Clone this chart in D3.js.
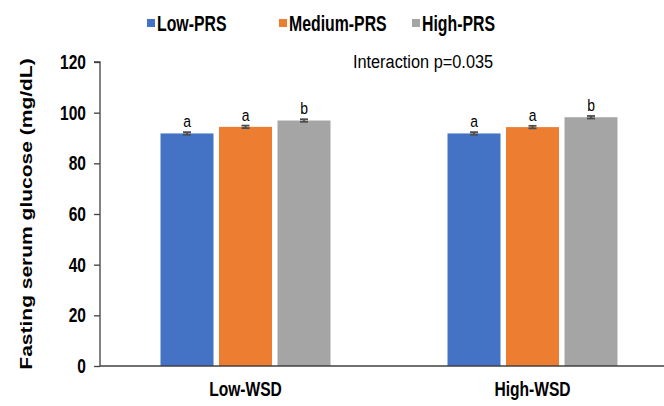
<!DOCTYPE html>
<html>
<head>
<meta charset="utf-8">
<script src="https://cdn.jsdelivr.net/npm/d3@7"></script>
<style>
  body { margin: 0; background: #fff; }
  text { font-family: "Liberation Sans", Arial, sans-serif; }
</style>
</head>
<body>
<script>
// data
const groups = ["Low-WSD", "High-WSD"];
const series = ["Low-PRS", "Medium-PRS", "High-PRS"];
const lowWsd = [91.8, 94.4, 96.9];
const highWsd = [91.8, 94.3, 98.2];
const errLow = [0.5, 0.5, 0.5];
const errHigh = [0.5, 0.5, 0.5];
const lettersLow = ["a", "a", "b"];
const lettersHigh = ["a", "a", "b"];
const yTicks = [0, 20, 40, 60, 80, 100, 120];
const colors = ["#4472C4", "#ED7D31", "#A5A5A5"];

const canvWidth = 664, canvHeight = 406;
const svg = d3.select("body").append("svg")
  .attr("width", canvWidth)
  .attr("height", canvHeight);

const rows = [];
groups.forEach(function(g, gi) {
  const vals = gi === 0 ? lowWsd : highWsd;
  const errs = gi === 0 ? errLow : errHigh;
  const lets = gi === 0 ? lettersLow : lettersHigh;
  series.forEach(function(s, si) {
    rows.push({group: g, series: s, value: vals[si], err: errs[si], letter: lets[si], color: colors[si]});
  });
});

// scales
const y = d3.scaleLinear().domain([0, 120]).range([366, 62]);
const x0 = d3.scaleBand().domain(groups).range([102, 676]);
const x1 = d3.scaleBand().domain(series).range([-85, 85]).paddingInner(0.094);

// narrow text helper (chart text is condensed)
function label(parent, str, x, yy, size, weight, anchor, sx) {
  return parent.append("text")
    .attr("transform", "translate(" + x + "," + yy + ") scale(" + sx + ",1)")
    .attr("font-size", size + "px")
    .attr("font-weight", weight)
    .attr("text-anchor", anchor)
    .attr("fill", "#000")
    .text(str);
}

// bars
const bars = svg.append("g");
bars.selectAll("rect").data(rows).enter().append("rect")
  .attr("x", d => x0(d.group) + x0.bandwidth() / 2 + x1(d.series))
  .attr("y", d => y(d.value))
  .attr("width", x1.bandwidth())
  .attr("height", d => y(0) - y(d.value))
  .attr("fill", d => d.color);

// error bars
const eb = svg.append("g").attr("stroke", "#4d4d4d").attr("stroke-width", 1.8);
rows.forEach(function(d) {
  const cx = x0(d.group) + x0.bandwidth() / 2 + x1(d.series) + x1.bandwidth() / 2;
  eb.append("line").attr("x1", cx).attr("x2", cx).attr("y1", y(d.value - d.err)).attr("y2", y(d.value + d.err));
  eb.append("line").attr("x1", cx - 4).attr("x2", cx + 4).attr("y1", y(d.value + d.err)).attr("y2", y(d.value + d.err));
  eb.append("line").attr("x1", cx - 4).attr("x2", cx + 4).attr("y1", y(d.value - d.err)).attr("y2", y(d.value - d.err));
  label(svg, d.letter, cx, y(d.value + d.err) - 5, 17, "normal", "middle", 0.82);
});

// y axis
const yAxis = svg.append("g").attr("transform", "translate(100,0)")
  .call(d3.axisLeft(y).tickValues(yTicks).tickSize(6).tickFormat(d3.format("d")));
yAxis.select(".domain").attr("stroke", "#404040").attr("stroke-width", 1.3).attr("d", "M-6," + y(120) + "H0V" + y(0));
yAxis.selectAll(".tick line").attr("stroke", "#404040").attr("stroke-width", 1.3);
yAxis.selectAll(".tick text").remove();
yTicks.forEach(function(t) {
  label(svg, String(t), 86, y(t) + 7, 21, "bold", "end", 0.74);
});

// x axis line
svg.append("line").attr("x1", 100).attr("x2", 664).attr("y1", y(0)).attr("y2", y(0))
  .attr("stroke", "#404040").attr("stroke-width", 1.5);
groups.forEach(function(g) {
  label(svg, g, x0(g) + x0.bandwidth() / 2, 396, 20, "bold", "middle", 0.78);
});

// y title
svg.append("text")
  .attr("transform", "translate(32,214) rotate(-90) scale(1,0.76)")
  .attr("font-size", "21px").attr("font-weight", "bold").attr("text-anchor", "middle")
  .text("Fasting serum glucose (mg/dL)");

// interaction note
label(svg, "Interaction p=0.035", 423, 68, 19, "normal", "middle", 0.86);

// legend
const legX = [147, 279, 412];
series.forEach(function(s, i) {
  svg.append("rect").attr("x", legX[i]).attr("y", 19).attr("width", 8).attr("height", 8).attr("fill", colors[i]);
  label(svg, s, legX[i] + 10, 31, 22, "bold", "start", 0.72);
});
</script>
</body>
</html>
